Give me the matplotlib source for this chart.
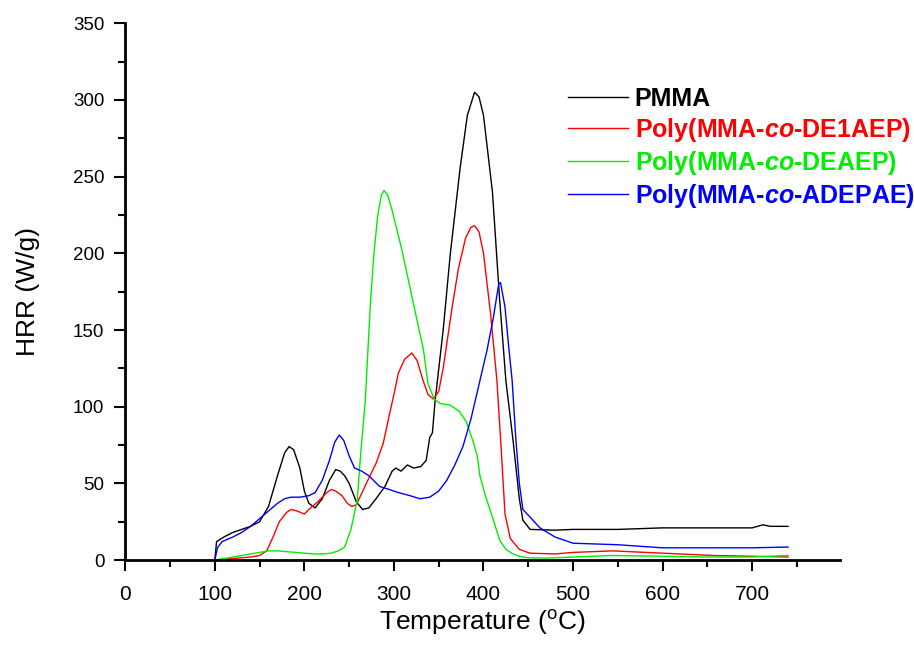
import numpy as np
import matplotlib
matplotlib.use("Agg")
import matplotlib.pyplot as plt
from matplotlib.ticker import MultipleLocator

plt.rcParams['font.family'] = ['Liberation Sans', 'DejaVu Sans']
plt.rcParams['mathtext.fontset'] = 'custom'
plt.rcParams['mathtext.rm'] = 'Liberation Sans'
plt.rcParams['mathtext.bf'] = 'Liberation Sans:bold'
plt.rcParams['mathtext.bfit'] = 'Liberation Sans:bold:italic'

# PMMA
t_pmma = [100, 102, 110, 120, 130, 140, 150, 160, 170, 178, 183, 188, 195, 200, 205, 212,
          220, 228, 235, 240, 245, 250, 258, 265, 272, 280, 290, 298, 302, 308, 315, 322,
          330, 336, 340, 343, 346, 355, 363, 374, 382, 390, 395, 400, 410, 418, 425, 433,
          440, 444, 452, 480, 500, 550, 600, 650, 700, 712, 720, 740]
hrr_pmma = [0, 12, 15, 18, 20, 22, 25, 35, 55, 70, 74, 72, 60, 45, 37, 34,
            40, 52, 59, 58, 55, 50, 38, 33, 34, 40, 48, 58, 60, 58, 62, 60,
            61, 65, 80, 83, 104, 150, 200, 256, 290, 305, 302, 290, 240, 170, 117, 78,
            40, 26, 20, 19.5, 20, 20, 21, 21, 21, 23, 22, 22]

# Poly(MMA-co-DE1AEP)
t_red = [100, 120, 140, 150, 158, 165, 172, 180, 185, 192, 200, 205, 215, 225, 230, 235,
         242, 248, 253, 258, 262, 270, 280, 288, 295, 300, 305, 312, 320, 326, 332, 338,
         344, 350, 355, 360, 365, 372, 380, 386, 390, 395, 400, 408, 415, 420, 424, 430,
         440, 452, 480, 500, 544, 600, 656, 700, 740]
hrr_red = [0, 1, 2, 3, 6, 15, 25, 31, 33, 32, 30, 33, 38, 44, 46, 45,
           42, 37, 35, 36, 41, 51, 63, 76, 95, 108, 122, 131, 135, 130, 118, 108,
           105, 110, 125, 145, 165, 190, 210, 217, 218, 214, 200, 160, 117, 70, 30, 14,
           7, 4.5, 4, 5, 6, 4.5, 3, 2.5, 2]

# Poly(MMA-co-DEAEP)
t_green = [100, 110, 120, 130, 140, 150, 160, 170, 180, 190, 200, 210, 220, 230, 238, 245,
           252, 259, 263, 268, 271, 274, 278, 282, 286, 289, 293, 298, 309, 320, 333, 338,
           345, 352, 363, 373, 381, 388, 393, 396, 402, 409, 418, 425, 433, 440, 450, 471,
           500, 544, 600, 650, 700, 740]
hrr_green = [0, 1, 2, 3, 4, 5, 6, 6, 5.5, 5, 4.5, 4, 4, 4.5, 6, 8.5,
             20, 39, 70, 104, 137, 170, 202, 225, 238, 241, 238, 228, 202, 172, 137, 115,
             105, 102, 101, 97, 90, 78, 68, 55, 42, 30, 13, 7, 4, 2.5, 1.5, 1.3,
             2, 3, 2.5, 2, 2, 3]

# Poly(MMA-co-ADEPAE)
t_blue = [100, 103, 108, 120, 130, 140, 150, 160, 170, 178, 185, 195, 205, 212, 220, 228,
          234, 239, 244, 250, 256, 264, 272, 284, 295, 305, 318, 329, 340, 350, 359, 368,
          377, 386, 396, 404, 411, 417, 419, 424, 428, 432, 436, 440, 444, 452, 463, 480,
          500, 550, 600, 650, 700, 740]
hrr_blue = [0, 8, 12, 15, 18, 22, 27, 32, 37, 40, 41, 41, 42, 44, 52, 65,
            77, 81.5, 78, 68, 60, 58, 55, 48, 46, 44, 42, 40, 41, 45, 52, 62,
            74, 92, 117, 137, 158, 180, 181, 165, 140, 117, 80, 50, 33, 28, 21, 15,
            11, 10, 8, 8, 8, 8.5]

fig = plt.figure(figsize=(9.14, 6.46), dpi=100)
ax = fig.add_axes([0.137, 0.133, 0.782, 0.831])

ax.plot(t_pmma, hrr_pmma, color='black', lw=1, label='PMMA')
ax.plot(t_red, hrr_red, color='#ff0000', lw=1, label=r'Poly(MMA-$\mathbfit{co}$-DE1AEP)')
ax.plot(t_green, hrr_green, color='#00ee00', lw=1, label=r'Poly(MMA-$\mathbfit{co}$-DEAEP)')
ax.plot(t_blue, hrr_blue, color='#0000ff', lw=1, label=r'Poly(MMA-$\mathbfit{co}$-ADEPAE)')

ax.set_xlim(0, 798)
ax.set_ylim(0, 350)
ax.set_xticks(range(0, 701, 100))
ax.set_yticks(range(0, 351, 50))
ax.xaxis.set_minor_locator(MultipleLocator(50))
ax.yaxis.set_minor_locator(MultipleLocator(25))
ax.spines['top'].set_visible(False)
ax.spines['right'].set_visible(False)
ax.spines['left'].set_linewidth(2)
ax.spines['bottom'].set_linewidth(2)
ax.tick_params(which='major', direction='out', length=8, width=1.5)
ax.tick_params(which='minor', direction='out', length=5, width=1.5)
ax.tick_params(axis='x', which='major', labelsize=15, pad=10)
ax.tick_params(axis='y', which='major', labelsize=13.5, pad=7)

ax.set_xlabel(r'Temperature ($^{\mathregular{o}}$C)', fontsize=19, labelpad=2.5)
ax.set_ylabel('HRR (W/g)', fontsize=19, labelpad=24)

leg = ax.legend(loc='upper left', bbox_to_anchor=(0.62, 0.882), frameon=False,
                borderpad=0, borderaxespad=0,
                handlelength=2.4, handletextpad=0.25, labelspacing=0.2,
                prop={'weight': 'bold', 'size': 18})
for text, line in zip(leg.get_texts(), leg.get_lines()):
    text.set_color(line.get_color())

fig.savefig('out.png', dpi=100)
